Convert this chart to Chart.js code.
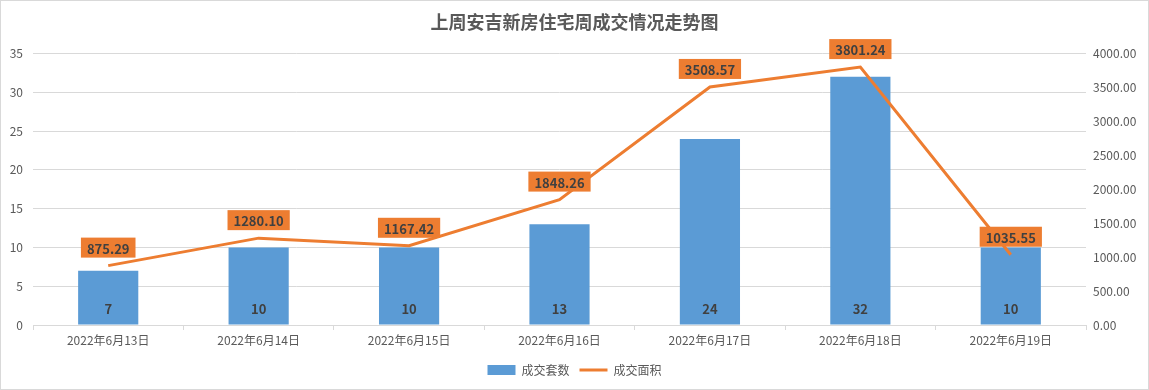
<!DOCTYPE html>
<html>
<head>
<meta charset="utf-8">
<script src="https://cdn.jsdelivr.net/npm/chart.js@4"></script>
<style>
    html, body { margin: 0; padding: 0; background: #fff; }
    #wrap { width: 1149px; height: 390px; }
</style>
</head>
<body>
<div id="wrap"><canvas id="weeklyChart" width="1149" height="390"></canvas></div>
<script>
const dates = ['2022年6月13日', '2022年6月14日', '2022年6月15日', '2022年6月16日', '2022年6月17日', '2022年6月18日', '2022年6月19日'];
const units = [7, 10, 10, 13, 24, 32, 10];            // 成交套数
const areas = [875.29, 1280.10, 1167.42, 1848.26, 3508.57, 3801.24, 1035.55]; // 成交面积
const leftTicks = [0, 5, 10, 15, 20, 25, 30, 35];
const rightTicks = [0, 500, 1000, 1500, 2000, 2500, 3000, 3500, 4000];

document.addEventListener('DOMContentLoaded', () => {
    Chart.defaults.font.family = '"Noto Sans CJK SC", "Microsoft YaHei", sans-serif';
    Chart.defaults.color = '#595959';

    // 白底 + 外框
    const frame = {
        id: 'frame',
        beforeDraw(chart) {
            const ctx = chart.ctx;
            ctx.save();
            ctx.fillStyle = '#fff';
            ctx.fillRect(0, 0, chart.width, chart.height);
            ctx.strokeStyle = '#d9d9d9';
            ctx.lineWidth = 1;
            ctx.strokeRect(0.5, 0.5, chart.width - 1, chart.height - 1);
            ctx.restore();
        }
    };

    // 数据标签
    const valueLabels = {
        id: 'valueLabels',
        afterDatasetsDraw(chart) {
            const ctx = chart.ctx;
            ctx.save();
            ctx.font = 'bold 13px "Noto Sans CJK SC", sans-serif';
            ctx.textAlign = 'center';
            ctx.textBaseline = 'middle';
            chart.getDatasetMeta(0).data.forEach((bar, i) => {
                ctx.fillStyle = '#404040';
                ctx.fillText(String(units[i]), bar.x, bar.base - 15);
            });
            chart.getDatasetMeta(1).data.forEach((pt, i) => {
                const txt = areas[i].toFixed(2);
                const w = ctx.measureText(txt).width + 12;
                const cy = pt.y - 18;
                ctx.fillStyle = '#ED7D31';
                ctx.fillRect(pt.x - w / 2, cy - 10, w, 20);
                ctx.fillStyle = '#404040';
                ctx.fillText(txt, pt.x, cy + 1);
            });
            ctx.restore();
        }
    };

    const ctx = document.getElementById('weeklyChart').getContext('2d');
    new Chart(ctx, {
        type: 'bar',
        data: {
            labels: dates,
            datasets: [{
                type: 'bar',
                label: '成交套数',
                data: units,
                backgroundColor: '#5B9BD5',
                barPercentage: 0.4,
                categoryPercentage: 1,
                yAxisID: 'y',
                order: 2
            }, {
                type: 'line',
                label: '成交面积',
                data: areas,
                borderColor: '#ED7D31',
                backgroundColor: '#ED7D31',
                borderWidth: 3,
                tension: 0,
                pointRadius: 0,
                yAxisID: 'y1',
                order: 1
            }]
        },
        options: {
            responsive: false,
            animation: false,
            layout: { padding: { top: 0, bottom: 4, left: 0, right: 0 } },
            plugins: {
                title: {
                    display: true,
                    text: '上周安吉新房住宅周成交情况走势图',
                    color: '#595959',
                    font: { size: 18, weight: 'bold' },
                    padding: { top: 11, bottom: 21 }
                },
                legend: {
                    position: 'bottom',
                    labels: {
                        usePointStyle: true,
                        pointStyleWidth: 28,
                        boxHeight: 10,
                        padding: 10,
                        color: '#595959',
                        font: { size: 12 },
                        sort: (a, b) => a.datasetIndex - b.datasetIndex,
                        generateLabels(chart) {
                            return chart.data.datasets.map((ds, i) => ({
                                text: ds.label,
                                datasetIndex: i,
                                fillStyle: ds.backgroundColor,
                                strokeStyle: ds.type === 'line' ? ds.borderColor : ds.backgroundColor,
                                lineWidth: ds.type === 'line' ? 3 : 0,
                                pointStyle: ds.type === 'line' ? 'line' : 'rect',
                                fontColor: '#595959',
                                hidden: false
                            }));
                        }
                    }
                },
                tooltip: { enabled: false }
            },
            scales: {
                x: {
                    grid: {
                        display: true,
                        drawOnChartArea: false,
                        drawTicks: true,
                        tickLength: 5,
                        color: '#d9d9d9',
                        offset: true
                    },
                    border: { color: '#d9d9d9' },
                    ticks: { color: '#595959', font: { size: 12 }, padding: 3, maxRotation: 0 },
                    afterFit(scale) { scale.height = 29; }
                },
                y: {
                    position: 'left',
                    min: 0,
                    max: 35,
                    afterBuildTicks(scale) { scale.ticks = leftTicks.map(v => ({ value: v })); },
                    grid: { color: '#d9d9d9', drawTicks: false },
                    border: { display: false },
                    ticks: { color: '#595959', font: { size: 12 }, padding: 10 },
                    afterFit(scale) { scale.width = 33; }
                },
                y1: {
                    position: 'right',
                    min: 0,
                    max: 4000,
                    afterBuildTicks(scale) { scale.ticks = rightTicks.map(v => ({ value: v })); },
                    grid: { drawOnChartArea: false, drawTicks: false },
                    border: { display: false },
                    ticks: {
                        color: '#595959',
                        font: { size: 12 },
                        padding: 7,
                        callback: v => Number(v).toFixed(2)
                    },
                    afterFit(scale) { scale.width = 63; }
                }
            }
        },
        plugins: [frame, valueLabels]
    });
});
</script>
</body>
</html>
